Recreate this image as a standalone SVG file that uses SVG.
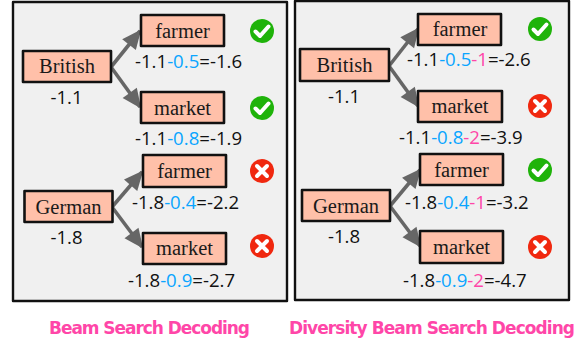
<svg xmlns="http://www.w3.org/2000/svg" width="575" height="345" viewBox="0 0 575 345">
<style>
.panel{fill:#f0f0f0;stroke:#111;stroke-width:2.4;stroke-linejoin:round}
.box{fill:#ffc0a9;stroke:#111;stroke-width:2.6;stroke-linejoin:round}
.word{font:20.5px "Liberation Serif",serif;fill:#1a1a1a;text-anchor:middle}
.num{font:18.6px "Open Sans",sans-serif;fill:#111}
.b{fill:#0aa5ff}
.p{fill:#ff46a8}
.edge{fill:none;stroke:#666;stroke-width:3.6;marker-end:url(#ah)}
.title{font:bold 17px "DejaVu Sans",sans-serif;fill:#ff46a8}
.ok{fill:#1fb30a}
.no{fill:#f0280f}
.mark{fill:none;stroke:#fff;stroke-width:4;stroke-linecap:round;stroke-linejoin:round}
</style>
<defs>
<marker id="ah" viewBox="0 0 10 10" refX="9" refY="5" markerWidth="6" markerHeight="5.4" orient="auto-start-reverse" markerUnits="strokeWidth"><path d="M0 0.5L10 5L0 9.5z" fill="#666"/></marker>
<g id="good"><circle r="12" class="ok"/><path d="M-6.5 0.5L-2 5L6.5 -4.5" class="mark"/></g>
<g id="bad"><circle r="12" class="no"/><path d="M-5 -5L5 5M5 -5L-5 5" class="mark"/></g>
</defs>
<rect x="13" y="2" width="274" height="299" class="panel"/>
<rect x="295" y="1" width="274" height="299" class="panel"/>
<g id="connectors">
<path class="edge" d="M111 67L140 31"/>
<path class="edge" d="M111 67L140 107"/>
<path class="edge" d="M112 207L142 172"/>
<path class="edge" d="M112 207L142 247"/>
<path class="edge" d="M389 66L418 29"/>
<path class="edge" d="M389 66L418 106"/>
<path class="edge" d="M390 206L420 170"/>
<path class="edge" d="M390 206L420 246"/>
</g>
<g id="left-british"><rect x="23" y="51" width="88" height="31" class="box"/><text x="67" y="73" class="word">British</text><text x="66.500" y="104" class="num" text-anchor="middle">-1.1</text></g>
<g id="left-farmer-1"><rect x="141" y="15" width="83" height="31" class="box"/><text x="182.500" y="38" class="word">farmer</text><text x="135" y="68" class="num">-1.1<tspan class="b">-0.5</tspan>=-1.6</text><use href="#good" x="262" y="31"/></g>
<g id="left-market-1"><rect x="141" y="92" width="83" height="31" class="box"/><text x="182.500" y="115" class="word">market</text><text x="135" y="145" class="num">-1.1<tspan class="b">-0.8</tspan>=-1.9</text><use href="#good" x="262" y="108"/></g>
<g id="left-german"><rect x="24.500" y="191" width="88" height="31" class="box"/><text x="68.500" y="214" class="word">German</text><text x="66.500" y="244" class="num" text-anchor="middle">-1.8</text></g>
<g id="left-farmer-2"><rect x="143" y="155" width="83" height="32" class="box"/><text x="184.500" y="178" class="word">farmer</text><text x="132" y="209" class="num">-1.8<tspan class="b">-0.4</tspan>=-2.2</text><use href="#bad" x="262" y="171"/></g>
<g id="left-market-2"><rect x="143" y="233" width="83" height="31" class="box"/><text x="184.500" y="255" class="word">market</text><text x="128" y="287" class="num">-1.8<tspan class="b">-0.9</tspan>=-2.7</text><use href="#bad" x="262" y="246"/></g>
<g id="right-british"><rect x="300" y="49" width="89" height="32" class="box"/><text x="344.500" y="72" class="word">British</text><text x="344" y="103" class="num" text-anchor="middle">-1.1</text></g>
<g id="right-farmer-1"><rect x="418" y="14" width="83" height="31" class="box"/><text x="460" y="36" class="word">farmer</text><text x="407" y="66" class="num">-1.1<tspan class="b">-0.5</tspan><tspan class="p">-1</tspan>=-2.6</text><use href="#good" x="540" y="29"/></g>
<g id="right-market-1"><rect x="418" y="91" width="84" height="31" class="box"/><text x="460" y="113" class="word">market</text><text x="399" y="144" class="num">-1.1<tspan class="b">-0.8</tspan><tspan class="p">-2</tspan>=-3.9</text><use href="#bad" x="540" y="106"/></g>
<g id="right-german"><rect x="302" y="190" width="88" height="31" class="box"/><text x="346" y="213" class="word">German</text><text x="344" y="243" class="num" text-anchor="middle">-1.8</text></g>
<g id="right-farmer-2"><rect x="420" y="154" width="83" height="31" class="box"/><text x="461.500" y="177" class="word">farmer</text><text x="405" y="209" class="num">-1.8<tspan class="b">-0.4</tspan><tspan class="p">-1</tspan>=-3.2</text><use href="#good" x="540" y="170"/></g>
<g id="right-market-2"><rect x="420" y="231" width="83" height="32" class="box"/><text x="461.500" y="254" class="word">market</text><text x="403" y="287" class="num">-1.8<tspan class="b">-0.9</tspan><tspan class="p">-2</tspan>=-4.7</text><use href="#bad" x="540" y="247"/></g>
<text x="49" y="334" class="title" textLength="201" lengthAdjust="spacing">Beam Search Decoding</text>
<text x="289" y="334" class="title" textLength="286" lengthAdjust="spacing">Diversity Beam Search Decoding</text>
</svg>
